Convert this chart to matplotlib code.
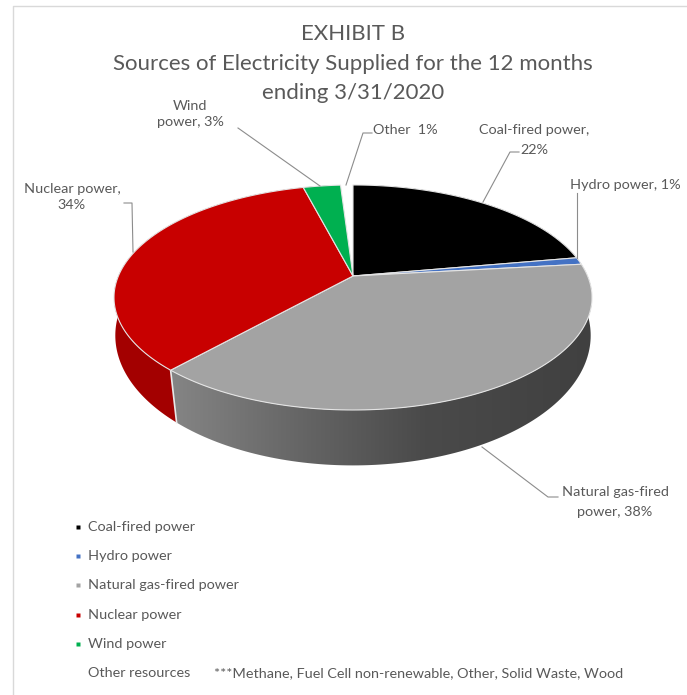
import numpy as np
import matplotlib
matplotlib.use('Agg')
import matplotlib.pyplot as plt
from matplotlib.colors import LinearSegmentedColormap
from matplotlib.patches import Polygon

plt.rcParams['font.family'] = ['Lato', 'DejaVu Sans']

sources = ['Coal-fired power', 'Hydro power', 'Natural gas-fired power',
           'Nuclear power', 'Wind power', 'Other']
shares = [22, 1, 38, 34, 3, 1]
colors = ['#000000', '#4472C4', '#A3A3A3', '#C80000', '#00B050', 'none']
wall_colors = ['#000000', '#2F5597', None, '#A30000', '#007A3D', 'none']
legend_names = sources[:5]
title_lines = ['EXHIBIT B', 'Sources of Electricity Supplied for the 12 months', 'ending 3/31/2020']
note = '***Methane, Fuel Cell non-renewable, Other, Solid Waste, Wood'

TEXT = '#595959'
LEADER = '#8C8C8C'
LABEL_SIZE = 10.4

# pie seen in perspective: pivot, half widths and foreshortening for the top and bottom disc
TOP = dict(cx=353, cy=276, a=234.6, b=108.4, k=0.191)
BOT = dict(cx=353, cy=316, a=235.0, b=127.0, k=0.15)


def rim(disc, angles):
    u, v = np.sin(angles), np.cos(angles)
    w = 1 + disc['k'] * v
    return disc['cx'] + disc['a'] * u / w, disc['cy'] - disc['b'] * v / w


fig = plt.figure(figsize=(6.87, 6.95), dpi=100)
ax = fig.add_axes([0, 0, 1, 1])
ax.set_xlim(0, 687)
ax.set_ylim(695, 0)
ax.axis('off')

# chart frame
ax.plot([13, 13, 687], [695, 6, 6], color='#D9D9D9', lw=1, zorder=1)

edges = np.cumsum([0] + shares) / sum(shares) * 2 * np.pi

# side walls first, the top faces then hide what is behind them
gas_cmap = LinearSegmentedColormap.from_list(
    'gas', [(0, '#858585'), (0.3, '#666666'), (0.6, '#4A4A4A'), (1, '#404040')])
grad = np.linspace(0, 1, 256).reshape(1, -1)
for i in range(len(shares)):
    if colors[i] == 'none':
        continue
    t = np.linspace(edges[i], edges[i + 1], 120)
    x1, y1 = rim(TOP, t)
    x2, y2 = rim(BOT, t)
    pts = np.r_[np.c_[x1, y1], np.c_[x2, y2][::-1]]
    if wall_colors[i] is None:
        poly = Polygon(pts, closed=True, fc='none', ec='none', zorder=2)
        ax.add_patch(poly)
        im = ax.imshow(grad, extent=[170, 595, 480, 250], cmap=gas_cmap, aspect='auto', zorder=2)
        im.set_clip_path(poly)
    else:
        ax.add_patch(Polygon(pts, closed=True, fc=wall_colors[i], ec='none', zorder=2))

# white seam between the gas and nuclear walls
xa, ya = rim(TOP, edges[3])
xb, yb = rim(BOT, edges[3])
ax.plot([xa, xb], [ya, yb], color='#E8E8E8', lw=1.2, zorder=3)

# top faces
for i in range(len(shares)):
    if colors[i] == 'none':
        continue
    t = np.linspace(edges[i], edges[i + 1], 120)
    x1, y1 = rim(TOP, t)
    pts = np.r_[[[TOP['cx'], TOP['cy']]], np.c_[x1, y1]]
    ax.add_patch(Polygon(pts, closed=True, fc=colors[i], ec='#E4E4E4', lw=0.8,
                         joinstyle='round', zorder=4))

ax.set_xlim(0, 687)
ax.set_ylim(695, 0)

# title
for line, y in zip(title_lines, [34, 64, 93]):
    ax.text(353, y, line, ha='center', va='center', fontsize=16, color=TEXT, zorder=6)

# data labels and their leader lines
labels = [
    ('Wind', 190, 106), ('power, 3%', 190, 122),
    ('Other  1%', 405, 130),
    ('Coal-fired power,', 534, 130), ('22%', 534, 150),
    ('Hydro power, 1%', 625, 185),
    ('Nuclear power,', 72, 189), ('34%', 72, 205),
    ('Natural gas-fired', 615, 492), ('power, 38%', 615, 512),
]
for s, x, y in labels:
    ax.text(x, y, s, ha='center', va='center', fontsize=LABEL_SIZE, color=TEXT, zorder=6)

leaders = [
    ([238, 320], [128, 186]),
    ([372, 363, 346], [133, 133, 185]),
    ([519, 510, 483], [152, 152, 202]),
    ([577, 577], [193, 258]),
    ([124, 132, 133], [203, 203, 252]),
    ([482, 548, 558], [447, 497, 497]),
]
for xs, ys in leaders:
    ax.plot(xs, ys, color=LEADER, lw=0.8, zorder=5)

# legend
legend_y = [527, 556, 585, 615, 644]
for name, col, y in zip(legend_names, colors, legend_y):
    ax.plot(78, y, marker='s', ms=3.2, color=col, mec='none', zorder=6)
    ax.text(88, y, name, ha='left', va='center', fontsize=LABEL_SIZE, color=TEXT, zorder=6)
ax.text(88, 673, 'Other resources', ha='left', va='center', fontsize=LABEL_SIZE, color=TEXT, zorder=6)
ax.text(214, 673, note, ha='left', va='center', fontsize=LABEL_SIZE, color=TEXT, zorder=6)

fig.savefig('out.png', dpi=100)
